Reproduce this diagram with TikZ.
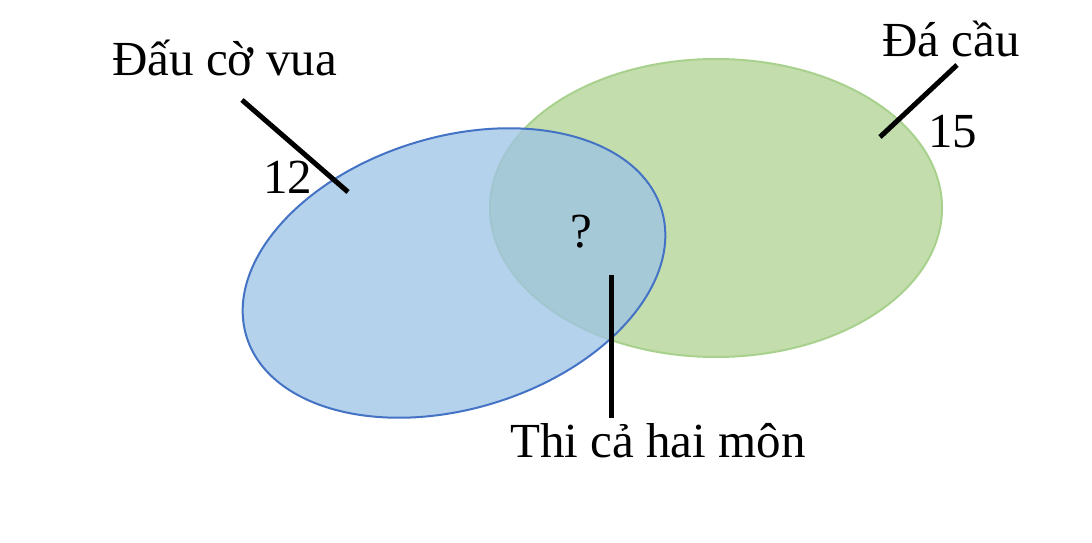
\documentclass[tikz,border=0pt]{standalone}
\usepackage{fontspec}
\setmainfont{Liberation Serif}
\definecolor{grfill}{RGB}{196,221,172}
\definecolor{grline}{RGB}{169,209,142}
\definecolor{blfill}{RGB}{157,195,230}
\definecolor{blline}{RGB}{68,114,196}
\begin{document}
\begin{tikzpicture}[x=1pt,y=1pt,
  lbl/.style={inner sep=0pt,font=\fontsize{49}{58}\selectfont},
  pointer/.style={line width=5pt,black}]
\useasboundingbox (0,0) rectangle (1092,542);
\fill[white] (0,0) rectangle (1092,542);
% green set
\draw[grline,line width=2pt,fill=grfill] (716,334) ellipse [x radius=226,y radius=149];
% blue set
\draw[blline,line width=2pt,fill=blfill,fill opacity=0.75,draw opacity=1]
  (454,269) ellipse [x radius=217,y radius=136,rotate=17];
% labels
\node[lbl,anchor=base west] (chess) at (112,466) {Đấu cờ vua};
\node[lbl,anchor=base west] (twelve) at (263,349) {12};
\node[lbl,anchor=base west] (shuttle) at (882,485) {Đá cầu};
\node[lbl,anchor=base west] (fifteen) at (928,394) {15};
\node[lbl,anchor=base] (q) at (581,295) {?};
\node[lbl,anchor=base west] (both) at (510,85) {Thi cả hai môn};
% pointers
\coordinate (c1) at (242,442);
\coordinate (c2) at (348,350);
\coordinate (s1) at (957,477);
\coordinate (s2) at (880,405);
\coordinate (b1) at (611,267);
\coordinate (b2) at (611,124);
\draw[pointer] (c1) -- (c2);
\draw[pointer] (s1) -- (s2);
\draw[pointer] (b1) -- (b2);
\end{tikzpicture}
\end{document}
